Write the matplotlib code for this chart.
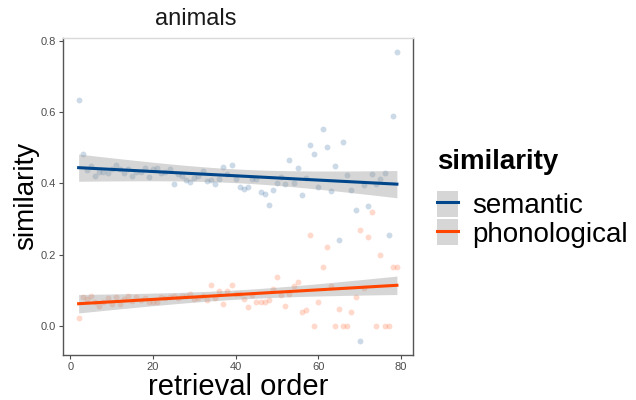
import numpy as np
import matplotlib
matplotlib.use("Agg")
import matplotlib.pyplot as plt
from matplotlib.patches import Patch
from matplotlib.lines import Line2D

plt.rcParams['font.family'] = ['Liberation Sans', 'DejaVu Sans']

# retrieval order (x) and similarity values
order = np.arange(2, 80)

semantic = [0.633, 0.484, 0.439, 0.448, 0.421, 0.431, 0.431, 0.430, 0.440, 0.453,
            0.440, 0.429, 0.440, 0.421, 0.433, 0.433, 0.443, 0.419, 0.440, 0.443,
            0.430, 0.433, 0.440, 0.398, 0.426, 0.422, 0.410, 0.405, 0.415, 0.422,
            0.435, 0.408, 0.410, 0.399, 0.413, 0.446, 0.426, 0.453, 0.413, 0.391,
            0.385, 0.390, 0.413, 0.411, 0.377, 0.371, 0.339, 0.382, 0.400, 0.419,
            0.397, 0.467, 0.402, 0.442, 0.368, 0.414, 0.507, 0.484, 0.389, 0.552,
            0.502, 0.380, 0.448, 0.240, 0.517, 0.425, 0.382, 0.325, -0.042, 0.395,
            0.337, 0.427, 0.399, 0.412, 0.430, 0.254, 0.589, 0.769]

phonological = [0.021, 0.081, 0.075, 0.085, 0.068, 0.055, 0.066, 0.079, 0.060, 0.080,
                0.062, 0.076, 0.085, 0.071, 0.080, 0.073, 0.079, 0.066, 0.066, 0.066,
                0.081, 0.077, 0.081, 0.085, 0.079, 0.085, 0.085, 0.089, 0.075, 0.077,
                0.085, 0.073, 0.114, 0.079, 0.099, 0.062, 0.098, 0.115, 0.090, 0.090,
                0.075, 0.053, 0.087, 0.066, 0.066, 0.067, 0.073, 0.104, 0.137, 0.087,
                0.056, 0.090, 0.113, 0.124, 0.039, 0.045, 0.254, 0.000, 0.066, 0.166,
                0.221, 0.112, 0.000, 0.047, 0.000, 0.000, 0.040, 0.082, 0.269, 0.105,
                0.249, 0.320, 0.000, 0.198, 0.000, 0.000, 0.166, 0.166]

series = [('semantic', semantic, '#00468B'), ('phonological', phonological, '#FF4500')]

fig = plt.figure(figsize=(6.36, 4.0), dpi=100)
ax = fig.add_axes([0.0986, 0.113, 0.5505, 0.792])

for name, vals, col in series:
    ax.scatter(order, vals, s=18, color=col, alpha=0.2, linewidths=0, zorder=2)

# linear fit with 95% confidence band (like geom_smooth(method='lm'))
for name, vals, col in series:
    y = np.array(vals)
    b, a = np.polyfit(order, y, 1)
    res = y - (a + b * order)
    n = len(y)
    s = np.sqrt(np.sum(res ** 2) / (n - 2))
    xs = np.linspace(order.min(), order.max(), 100)
    xm = order.mean()
    se = s * np.sqrt(1.0 / n + (xs - xm) ** 2 / np.sum((order - xm) ** 2))
    yh = a + b * xs
    ax.fill_between(xs, yh - 1.99 * se, yh + 1.99 * se, color='#999999', alpha=0.4,
                    linewidth=0, zorder=3)
    ax.plot(xs, yh, color=col, lw=2.2, zorder=4)

ax.set_xlim(-1.85, 82.85)
ax.set_ylim(-0.0815, 0.8085)
ax.set_xticks([0, 20, 40, 60, 80])
ax.set_yticks([0.0, 0.2, 0.4, 0.6, 0.8])
ax.set_yticklabels(['0.0', '0.2', '0.4', '0.6', '0.8'])
ax.tick_params(labelsize=8, colors='#4d4d4d', length=3, width=0.8, pad=2)
for sp in ['left', 'bottom', 'right']:
    ax.spines[sp].set_color('#555555')
    ax.spines[sp].set_linewidth(1.0)
ax.spines['top'].set_color('#d9d9d9')
ax.spines['top'].set_linewidth(1.0)

fig.text(196 / 636, 1 - 19 / 400, 'animals', fontsize=17, color='#1a1a1a',
         ha='center', va='center')
ax.set_xlabel('retrieval order', fontsize=21, labelpad=1)
ax.set_ylabel('similarity', fontsize=20, labelpad=1)

fig.text(437 / 636, 1 - 162 / 400, 'similarity', fontsize=20, fontweight='bold',
         ha='left', va='center')
handles = [(Patch(facecolor='#d6d6d6', edgecolor='none'), Line2D([], [], color=c, lw=2.2))
           for _, _, c in series]
leg = fig.legend(handles, [nm for nm, _, _ in series],
                 loc='upper left', bbox_to_anchor=(437 / 636, 1 - 191 / 400), frameon=False,
                 fontsize=20, handlelength=0.75, handleheight=1.05,
                 handletextpad=0.5, labelspacing=0.0, borderaxespad=0, borderpad=0)

fig.savefig('out.png', dpi=100)
